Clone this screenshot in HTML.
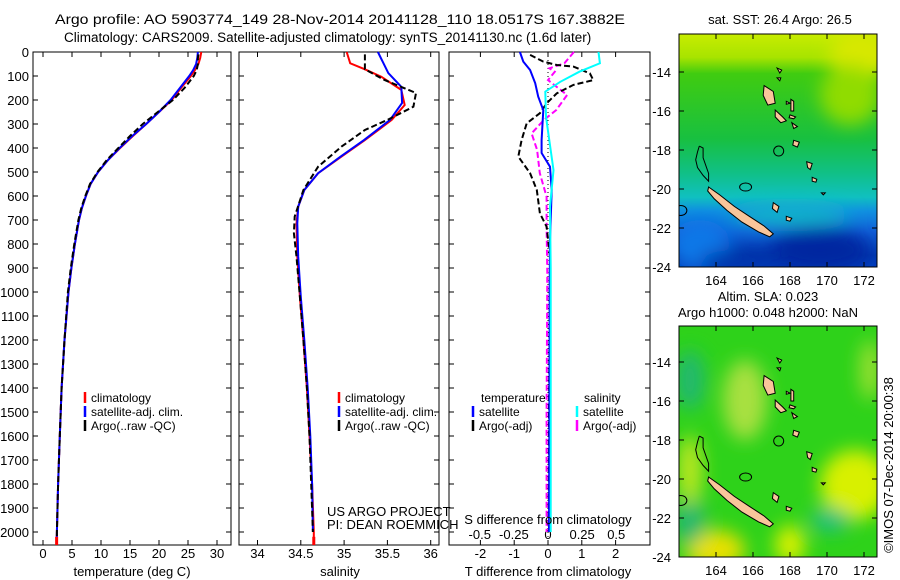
<!DOCTYPE html>
<html><head><meta charset="utf-8"><style>
html,body{margin:0;padding:0;background:#fff;}
svg{display:block;font-family:"Liberation Sans",sans-serif;}
</style></head><body>
<svg id="fig" width="900" height="580" viewBox="0 0 900 580" xmlns="http://www.w3.org/2000/svg">
<defs>
<filter id="blur" x="-50%" y="-50%" width="200%" height="200%"><feGaussianBlur stdDeviation="9"/></filter>
<clipPath id="clipTop"><rect x="679" y="34" width="198" height="233"/></clipPath>
<clipPath id="clipBot"><rect x="679" y="326" width="198" height="231"/></clipPath>
<linearGradient id="sstGrad" x1="0" y1="0" x2="0" y2="1">
<stop offset="0" stop-color="#c8ec00"/><stop offset="0.1" stop-color="#a8e400"/>
<stop offset="0.17" stop-color="#40cc10"/><stop offset="0.45" stop-color="#18c040"/>
<stop offset="0.6" stop-color="#10c088"/><stop offset="0.7" stop-color="#10c0c0"/>
<stop offset="0.76" stop-color="#1090e0"/><stop offset="0.85" stop-color="#1060d8"/>
<stop offset="0.95" stop-color="#0038b0"/><stop offset="1" stop-color="#0040c0"/>
</linearGradient>
</defs>
<g id="title" fill="#000">
<text x="55" y="24" font-size="14" textLength="570" lengthAdjust="spacingAndGlyphs">Argo profile: AO 5903774_149 28-Nov-2014 20141128_110 18.0517S 167.3882E</text>
<text x="64" y="42" font-size="13.5">Climatology: CARS2009. Satellite-adjusted climatology: synTS_20141130.nc (1.6d later)</text>
</g>
<g id="plots"></g>
<g id="maps"></g>
</svg>
<script>
// ---------- data ----------
const depths = [0,25,50,75,100,150,200,250,300,350,400,450,500,550,600,650,700,800,900,1000,1200,1400,1600,1800,2000,2050];
const tempClim = [27.3,27.1,26.8,26.2,25.5,23.8,22.2,20.0,17.8,15.5,13.3,11.2,9.5,8.2,7.4,6.7,6.2,5.5,4.9,4.4,3.7,3.2,2.9,2.6,2.4,2.35];
const tempSat  = [26.7,26.6,26.4,25.9,25.2,23.6,22.0,20.0,17.8,15.4,13.2,11.2,9.5,8.2,7.4,6.7,6.2,5.5,4.9,4.4,3.7,3.2,2.9,2.6,2.4,2.35];
const argoDepths = [10,25,50,75,100,150,200,250,300,350,400,450,500,550,600,650,700,800,900,1000,1200,1400,1600,1800,2000,2020];
const tempArgo = [26.8,26.7,26.7,26.5,26.0,24.4,22.4,19.8,17.2,15.0,13.0,11.0,9.4,8.1,7.3,6.6,6.1,5.4,4.8,4.3,3.7,3.2,2.9,2.6,2.4,2.4];

const salDepths = [0,47,72,103,158,221,283,367,436,505,575,644,714,853,1020,1200,1400,1600,1800,2000,2050];
const salClim = [35.03,35.07,35.24,35.43,35.66,35.70,35.55,35.24,34.97,34.70,34.54,34.47,34.45,34.46,34.49,34.53,34.57,34.60,34.63,34.65,34.65];
const salSatDepths = [0,88,145,212,283,367,436,505,575,644,714,853,1020,1200,1400,1600,1800,2000];
const salSat = [35.39,35.51,35.66,35.67,35.53,35.23,34.96,34.70,34.54,34.47,34.46,34.47,34.50,34.54,34.58,34.61,34.63,34.64];
const salArgoDepths = [10,30,72,117,171,228,283,325,394,478,575,686,755,853,1020,1200,1400,1600,1800,2000];
const salArgo = [35.24,35.24,35.24,35.47,35.83,35.80,35.50,35.24,34.97,34.70,34.53,34.43,34.42,34.45,34.49,34.53,34.57,34.60,34.62,34.64];

const tdSatDepths = [0,40,75,130,186,242,367,421,478,575,783,1000,1500,2000];
const tdSat = [-0.83,-0.73,-0.53,-0.38,-0.29,-0.14,-0.19,-0.19,0.06,0.11,0.06,0.05,0.04,0.03];
const sdSatDepths = [0,47,82,124,165,270,492,644,900,1500,2000];
const sdSat = [0.37,0.38,0.23,0.09,-0.02,-0.015,0.04,0.015,0.02,0.02,0.02];
const tdArgoDepths = [12,40,54,61,89,117,137,172,214,255,297,367,436,505,575,672,728,853,1000,1500,2000];
const tdArgo = [-0.53,-0.14,0.26,0.75,1.24,1.34,0.75,0.26,-0.04,-0.24,-0.63,-0.78,-0.88,-0.53,-0.33,-0.24,-0.04,0.06,0.05,0.03,0.02];
const sdArgoDepths = [0,47,68,82,117,179,242,283,339,408,505,603,728,921,1500,2000];
const sdArgo = [0.19,0.12,0.01,0.05,0.0,0.14,0.06,-0.03,-0.12,-0.08,-0.06,-0.01,-0.01,-0.005,-0.01,-0.01];

const depthTicks = [0,100,200,300,400,500,600,700,800,900,1000,1100,1200,1300,1400,1500,1600,1700,1800,1900,2000];
const tempTicks = [0,5,10,15,20,25,30];
const salTicks = [34,34.5,35,35.5,36];
const salTickLabels = ["34","34.5","35","35.5","36"];
const tdTicks = [-2,-1,0,1,2];
const sdTicks = [-0.5,-0.25,0,0.25,0.5];
const sdTickLabels = ["-0.5","-0.25","0","0.25","0.5"];
const lonTicks = [164,166,168,170,172];
const latTicks = [-14,-16,-18,-20,-22,-24];

// ---------- axis functions ----------
const NS = "http://www.w3.org/2000/svg";
const yD = d => 52 + d*0.24;
const xT = t => 43 + t*5.8;
const xS = s => 257.5 + (s-34)*86.6;
const xTD = v => 548 + v*33.8;
const xSD = v => 548 + v*136.5;
const mapX = lon => 679 + (lon-162)*18.5;
const mapYTop = lat => 267 - (lat+24)*19.5;
const mapYBot = lat => 557 - (lat+24)*19.5;

function el(tag, attrs, parent, txt){
  const e = document.createElementNS(NS, tag);
  for (const k in attrs) e.setAttribute(k, attrs[k]);
  if (txt !== undefined) e.textContent = txt;
  parent.appendChild(e);
  return e;
}
const plots = document.getElementById('plots');
const maps = document.getElementById('maps');

function line(xs, ds, xf, color, dash, name){
  const pts = xs.map((v,i)=> xf(v).toFixed(1)+','+yD(ds[i]).toFixed(1)).join(' ');
  const p = el('polyline',{points:pts,fill:'none',stroke:color,'stroke-width':2,'stroke-dasharray':dash||'none'},plots);
  
  
}

const panels = [[33,231,'temperature-panel'],[239,439,'salinity-panel'],[449,650,'difference-panel']];
panels.forEach(([l,r,n])=>{
  const f = el('rect',{x:l,y:52,width:r-l,height:493,fill:'none',stroke:'#000','stroke-width':1},plots);
  
  
  depthTicks.forEach(d=>{
    el('line',{x1:l,x2:l+5,y1:yD(d),y2:yD(d),stroke:'#000'},plots);
    el('line',{x1:r-5,x2:r,y1:yD(d),y2:yD(d),stroke:'#000'},plots);
  });
});
depthTicks.forEach(d=>{
  const t = el('text',{x:29,y:yD(d)+5,'font-size':13,'text-anchor':'end'},plots,String(d));
  
  
});
function xticks(ticks, labels, xf, ly, top, bottom, inner){
  ticks.forEach((v,i)=>{
    const x = xf(v);
    if (inner){ el('line',{x1:x,x2:x,y1:top,y2:top+5,stroke:'#000'},plots); el('line',{x1:x,x2:x,y1:bottom-5,y2:bottom,stroke:'#000'},plots); }
    const t = el('text',{x:x,y:ly,'font-size':13,'text-anchor':'middle'},plots,labels[i]);
    
    
  });
}
xticks(tempTicks, tempTicks.map(String), xT, 558, 52, 545, true);
xticks(salTicks, salTickLabels, xS, 558, 52, 545, true);
xticks(tdTicks, tdTicks.map(String), xTD, 558, 52, 545, true);
xticks(sdTicks, sdTickLabels, xSD, 539, 52, 545, false);
const z = el('line',{x1:548,x2:548,y1:52,y2:545,stroke:'#000','stroke-width':1,'stroke-dasharray':'1,3'},plots);



line(tempClim, depths, xT, '#ff0000', null, 'temp-climatology-line');
line(tempSat, depths, xT, '#0000ff', null, 'temp-satellite-line');
line(tempArgo, argoDepths, xT, '#000000', '6,3', 'temp-argo-line');
line(salClim, salDepths, xS, '#ff0000', null, 'sal-climatology-line');
line(salSat, salSatDepths, xS, '#0000ff', null, 'sal-satellite-line');
line(salArgo, salArgoDepths, xS, '#000000', '6,3', 'sal-argo-line');
line(sdArgo, sdArgoDepths, xSD, '#ff00ff', '6,3', 'sdiff-argo-line');
line(tdArgo, tdArgoDepths, xTD, '#000000', '6,3', 'tdiff-argo-line');
line(tdSat, tdSatDepths, xTD, '#0000ff', null, 'tdiff-satellite-line');
line(sdSat, sdSatDepths, xSD, '#00ffff', null, 'sdiff-satellite-line');
el('line',{x1:xT(2.35),x2:xT(2.35),y1:yD(2020),y2:545,stroke:'#f00','stroke-width':3},plots);
el('line',{x1:xS(34.65),x2:xS(34.65),y1:yD(2020),y2:545,stroke:'#f00','stroke-width':3},plots);

function txt(x,y,s,name,anchor,size){
  const t = el('text',{x:x,y:y,'font-size':size||13,'text-anchor':anchor||'start'},plots,s);
  
  
}
txt(132,576,'temperature (deg C)','x-axis-title-temperature','middle');
txt(340,576,'salinity','x-axis-title-salinity','middle');
txt(548,576,'T difference from climatology','x-axis-title-tdiff','middle');
txt(548,524,'S difference from climatology','x-axis-title-sdiff','middle');
txt(327,516,'US ARGO PROJECT','project-credit');
txt(327,529,'PI: DEAN ROEMMICH','pi-credit');

function legendEntry(x,y,color,label,name){
  const b = el('line',{x1:x,x2:x,y1:y-6,y2:y+5,stroke:color,'stroke-width':2.5},plots);
  
  
  txt(x+6,y+4,label,name,'start',12);
}
legendEntry(85,398,'#f00','climatology','legend-climatology-temp');
legendEntry(85,412,'#00f','satellite-adj. clim.','legend-satellite-temp');
legendEntry(85,426,'#000','Argo(..raw -QC)','legend-argo-temp');
legendEntry(339,398,'#f00','climatology','legend-climatology-sal');
legendEntry(339,412,'#00f','satellite-adj. clim.','legend-satellite-sal');
legendEntry(339,426,'#000','Argo(..raw -QC)','legend-argo-sal');
txt(481,402,'temperature','legend-heading-temperature','start',12);
txt(584,402,'salinity','legend-heading-salinity','start',12);
legendEntry(473,412,'#00f','satellite','legend-satellite-tdiff');
legendEntry(473,426,'#000','Argo(-adj)','legend-argo-tdiff');
legendEntry(577,412,'#0ff','satellite','legend-satellite-sdiff');
legendEntry(577,426,'#f0f','Argo(-adj)','legend-argo-sdiff');

// ---------- maps ----------
const ncal = [[163.6,-19.9],[164.2,-20.3],[165.0,-20.9],[165.8,-21.4],[166.6,-21.9],[167.1,-22.3],[166.9,-22.45],[166.3,-22.2],[165.4,-21.7],[164.6,-21.1],[163.9,-20.5],[163.55,-20.1]];
const islands = [
 [[166.6,-14.7],[167.1,-15.0],[167.2,-15.6],[166.8,-15.7],[166.55,-15.2]],
 [[167.2,-15.95],[167.6,-16.3],[167.8,-16.5],[167.5,-16.6],[167.2,-16.3]],
 [[168.2,-17.5],[168.5,-17.6],[168.4,-17.85],[168.15,-17.75]],
 [[168.9,-18.6],[169.2,-18.7],[169.1,-19.0],[168.95,-18.9]],
 [[169.2,-19.4],[169.45,-19.5],[169.4,-19.65],[169.2,-19.6]],
 [[167.3,-13.8],[167.55,-13.9],[167.45,-14.05]],
 [[167.3,-14.3],[167.5,-14.3],[167.45,-14.45]],
 [[168.05,-15.4],[168.2,-15.5],[168.2,-16.0],[168.05,-16.0]],
 [[168.0,-16.2],[168.3,-16.3],[168.2,-16.4],[167.95,-16.35]],
 [[167.8,-15.5],[168.0,-15.6],[167.8,-15.65]],
 [[168.1,-16.6],[168.4,-16.8],[168.2,-16.9]],
 [[167.1,-20.7],[167.4,-20.9],[167.3,-21.2],[167.05,-21.0]],
 [[167.8,-21.4],[168.1,-21.5],[168.0,-21.65],[167.8,-21.6]],
 [[169.7,-20.2],[169.9,-20.2],[169.8,-20.3]]
];
const contourLoop = [[163.1,-17.8],[163.3,-17.9],[163.3,-18.4],[163.6,-19.2],[163.6,-19.6],[163.3,-19.3],[163.0,-18.9],[162.9,-18.5],[163.0,-18.1]];

function drawMap(yf, clip, bg, label){
  const g = el('g',{'clip-path':'url(#'+clip+')'},maps);
  
  
  bg(g);
  const pt = p => mapX(p[0]).toFixed(1)+','+yf(p[1]).toFixed(1);
  const nc = el('polygon',{points:ncal.map(pt).join(' '),fill:'#f9c59a',stroke:'#000','stroke-width':1},g);
  
  
  islands.forEach(isl=>{
    const p = el('polygon',{points:isl.map(pt).join(' '),fill:'#f9c59a',stroke:'#000','stroke-width':1},g);
    
    
  });
  el('polyline',{points:contourLoop.map(pt).join(' ')+' '+pt(contourLoop[0]),fill:'none',stroke:'#000','stroke-width':1},g);
  el('ellipse',{cx:mapX(165.6),cy:yf(-19.9),rx:6,ry:4,fill:'none',stroke:'#000'},g);
  el('ellipse',{cx:mapX(162.1),cy:yf(-21.1),rx:6,ry:5,fill:'none',stroke:'#000'},g);
  const c = el('circle',{cx:mapX(167.3882),cy:yf(-18.0517),r:5,fill:'none',stroke:'#000','stroke-width':1},g);
  
  
  const fr = el('rect',{x:679,y:clip==='clipTop'?34:326,width:198,height:clip==='clipTop'?233:231,fill:'none',stroke:'#000'},maps);
  
  
  const y0 = clip==='clipTop'?34:326, y1 = yf(-24);
  lonTicks.forEach(lon=>{
    el('line',{x1:mapX(lon),x2:mapX(lon),y1:y0,y2:y0+5,stroke:'#000'},maps);
    el('line',{x1:mapX(lon),x2:mapX(lon),y1:y1-5,y2:y1,stroke:'#000'},maps);
    const t = el('text',{x:mapX(lon),y:y1+18,'font-size':13,'text-anchor':'middle'},maps,String(lon));
    
    
  });
  latTicks.forEach(lat=>{
    el('line',{x1:679,x2:684,y1:yf(lat),y2:yf(lat),stroke:'#000'},maps);
    el('line',{x1:872,x2:877,y1:yf(lat),y2:yf(lat),stroke:'#000'},maps);
    const t = el('text',{x:671,y:yf(lat)+5,'font-size':13,'text-anchor':'end'},maps,String(lat));
    
    
  });
}
drawMap(mapYTop,'clipTop',g=>{
  el('rect',{x:679,y:34,width:198,height:233,fill:'url(#sstGrad)'},g);
  const b = el('g',{filter:'url(#blur)'},g);
  el('ellipse',{cx:860,cy:55,rx:30,ry:25,fill:'#d8e800'},b);
  el('ellipse',{cx:850,cy:95,rx:30,ry:30,fill:'#90dc00'},b);
  el('ellipse',{cx:700,cy:245,rx:30,ry:25,fill:'#1078e8'},b);
  el('ellipse',{cx:820,cy:250,rx:50,ry:22,fill:'#0028a0'},b);
  el('ellipse',{cx:740,cy:260,rx:40,ry:10,fill:'#0030a8'},b);
  el('ellipse',{cx:790,cy:215,rx:60,ry:10,fill:'#18b8c8'},b);
},'sst');
drawMap(mapYBot,'clipBot',g=>{
  el('rect',{x:679,y:326,width:198,height:231,fill:'#2ed21a'},g);
  const b = el('g',{filter:'url(#blur)'},g);
  el('ellipse',{cx:745,cy:400,rx:22,ry:40,fill:'#a8e040'},b);
  el('ellipse',{cx:855,cy:485,rx:35,ry:35,fill:'#d8f000'},b);
  el('ellipse',{cx:715,cy:550,rx:30,ry:20,fill:'#e8e000'},b);
  el('ellipse',{cx:790,cy:545,rx:15,ry:20,fill:'#d8f000'},b);
  el('ellipse',{cx:690,cy:380,rx:15,ry:30,fill:'#20b870'},b);
  el('ellipse',{cx:690,cy:520,rx:15,ry:25,fill:'#20b870'},b);
  el('ellipse',{cx:830,cy:520,rx:20,ry:12,fill:'#20c080'},b);
  el('ellipse',{cx:690,cy:470,rx:12,ry:35,fill:'#c0e820'},b);
  el('ellipse',{cx:870,cy:370,rx:10,ry:30,fill:'#a0e030'},b);
},'sla');
function mtxt(x,y,s,name,anchor,extra){
  const t = el('text',Object.assign({x:x,y:y,'font-size':13,'text-anchor':anchor||'middle'},extra||{}),maps,s);
  
  
}
mtxt(780,24,'sat. SST: 26.4  Argo: 26.5','sst-map-title');
mtxt(768,301,'Altim. SLA: 0.023','sla-map-title');
mtxt(768,317,'Argo h1000: 0.048 h2000: NaN','sla-map-subtitle');
mtxt(893,465,'©IMOS 07-Dec-2014 20:00:38','timestamp-credit','middle',{transform:'rotate(-90 893 465)'});
</script>
</body></html>
